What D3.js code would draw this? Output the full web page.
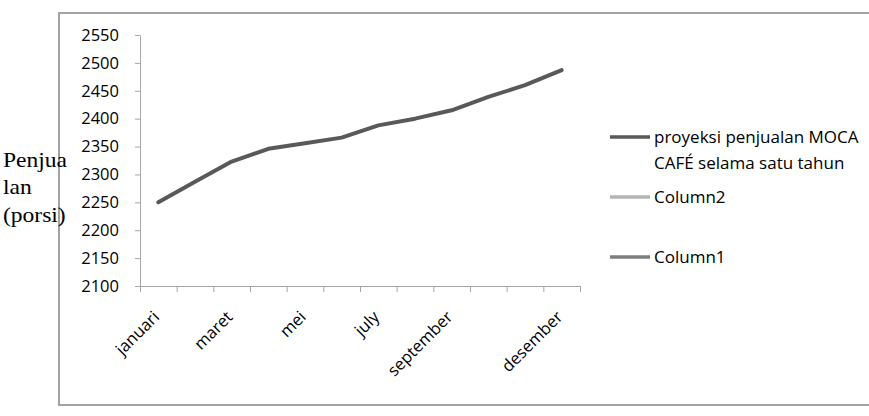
<!DOCTYPE html>
<html>
<head>
<meta charset="utf-8">
<script src="https://cdn.jsdelivr.net/npm/d3@7"></script>
<style>
  html, body { margin: 0; padding: 0; background: #fff; }
  svg { display: block; }
</style>
</head>
<body>
<svg id="chart" width="869" height="416"></svg>
<script>
const months = ["januari","februari","maret","april","mei","juni","july","agustus","september","oktober","november","desember"];
const tickLabels = ["januari","","maret","","mei","","july","","september","","","desember"];
const sales = [2250, 2287, 2323, 2346, 2356, 2366, 2388, 2400, 2415, 2439, 2460, 2487];
const yTicks = [2100, 2150, 2200, 2250, 2300, 2350, 2400, 2450, 2500, 2550];
const legendItems = [
  { lines: ["proyeksi penjualan MOCA", "CAFÉ selama satu tahun"], color: "#595959" },
  { lines: ["Column2"], color: "#b4b4b4" },
  { lines: ["Column1"], color: "#7e7e7e" }
];
const yLabelLines = ["Penjua", "lan", "(porsi)"];

(function () {
const svg = d3.select("#chart");
const font = "'Open Sans', 'Noto Sans', sans-serif";

// outer frame
svg.append("path")
  .attr("d", "M 880 13 H 59 V 405 H 880")
  .attr("fill", "none").attr("stroke", "#a3a3a3").attr("stroke-width", 2);

const pLeft = 140, pRight = 580, pTop = 35, pBottom = 286;

const y = d3.scaleLinear().domain([2100, 2550]).range([pBottom, pTop]);
const xb = d3.scaleBand().domain(months).range([pLeft, pRight]);
const xEdge = d3.scaleLinear().domain([0, months.length]).range([pLeft, pRight]);

// y axis
const gy = svg.append("g").attr("transform", `translate(${pLeft},0)`)
  .call(d3.axisLeft(y).tickValues(yTicks).tickSize(5).tickSizeOuter(0).tickPadding(16).tickFormat(d3.format("d")));
gy.select(".domain").attr("stroke", "#a6a6a6");
gy.selectAll(".tick line").attr("stroke", "#a6a6a6");
gy.selectAll(".tick text").attr("font-family", font).attr("font-size", "16.5px").attr("fill", "#000");

// x axis boundary ticks
const gx = svg.append("g").attr("transform", `translate(0,${pBottom})`)
  .call(d3.axisBottom(xEdge).tickValues(d3.range(months.length + 1)).tickSize(6).tickSizeOuter(0).tickFormat(""));
gx.select(".domain").attr("stroke", "#a6a6a6");
gx.selectAll(".tick line").attr("stroke", "#a6a6a6");

// x labels
const gl = svg.append("g").attr("transform", `translate(0,${pBottom})`)
  .call(d3.axisBottom(xb).tickSize(0).tickPadding(0).tickFormat((d, i) => tickLabels[i]));
gl.select(".domain").remove();
gl.selectAll(".tick text")
  .attr("font-family", font).attr("font-size", "16.5px").attr("fill", "#000")
  .attr("text-anchor", "end")
  .attr("dy", null).attr("y", 0)
  .attr("transform", "translate(2,32) rotate(-45)");

// line
const line = d3.line().x((d, i) => xb(months[i]) + xb.bandwidth() / 2).y(d => y(d));
svg.append("path").datum(sales)
  .attr("d", line).attr("fill", "none")
  .attr("stroke", legendItems[0].color).attr("stroke-width", 4)
  .attr("stroke-linejoin", "round").attr("stroke-linecap", "round");

// y label
const yl = svg.append("text").attr("font-family", "'Liberation Serif', 'Times New Roman', serif")
  .attr("font-size", "22px").attr("fill", "#000")
  .attr("transform", "scale(1.07,1)");
yLabelLines.forEach((t, i) => {
  yl.append("tspan").attr("x", 3 / 1.07).attr("y", 166.7 + i * 27.5).text(t);
});

// legend
const legendY = [137, 197, 257];
legendItems.forEach((item, i) => {
  const g = svg.append("g").attr("transform", `translate(610,${legendY[i]})`);
  g.append("line").attr("x1", 0).attr("x2", 40).attr("y1", 0).attr("y2", 0)
    .attr("stroke", item.color).attr("stroke-width", 3.5);
  item.lines.forEach((t, j) => {
    g.append("text").attr("x", 44).attr("y", 6 + j * 25.5)
      .attr("font-family", font).attr("font-size", "17px").attr("fill", "#000").text(t);
  });
});
})();
</script>
</body>
</html>
